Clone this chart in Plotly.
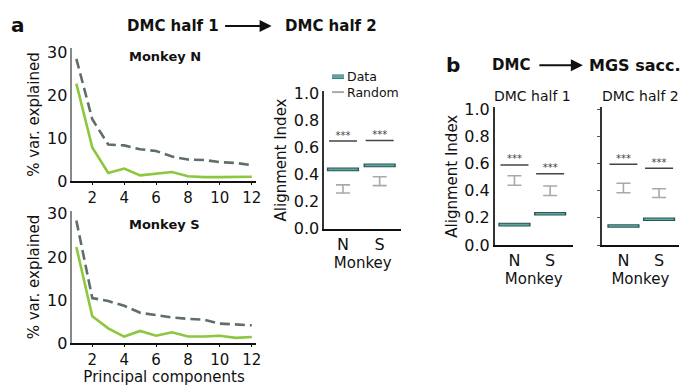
import plotly.graph_objects as go

W, H = 687, 386
FONT = "DejaVu Sans"

pcs = list(range(1, 13))
n_data = [22.7, 7.8, 1.85, 2.9, 1.3, 1.7, 2.1, 1.1, 0.9, 0.9, 0.9, 1.0]
n_rand = [28.5, 14.4, 8.5, 8.3, 7.4, 7.0, 5.7, 5.0, 4.9, 4.4, 4.2, 3.7]
s_data = [22.3, 6.3, 3.5, 1.6, 2.9, 1.8, 2.6, 1.6, 1.6, 1.8, 1.3, 1.5]
s_rand = [28.4, 10.5, 9.8, 8.7, 7.1, 6.6, 6.0, 5.7, 5.5, 4.6, 4.4, 4.2]

monkeys = ["N", "S"]
mk_pos = [0, 1]
# panel a right: DMC half1 -> half2
a_data = [0.44, 0.47]
a_rand_lo = [0.265, 0.32]
a_rand_hi = [0.325, 0.385]
a_sig = [0.65, 0.655]
# panel b: DMC -> MGS sacc
b1_data = [0.15, 0.23]
b1_rand_lo = [0.44, 0.365]
b1_rand_hi = [0.51, 0.435]
b1_sig = [0.59, 0.525]
b2_data = [0.14, 0.19]
b2_rand_lo = [0.385, 0.35]
b2_rand_hi = [0.455, 0.415]
b2_sig = [0.595, 0.565]
sig_text = ["***", "***"]
legend_labels = ["Data", "Random"]

GREEN = "#8dc63f"
DASH = "#5f6f67"
TEAL = "#5aa9a2"
TEAL_DARK = "#2e5553"
GRAY = "#a9a9a9"

fig = go.Figure()

def px(x):
    return x / W

def py(y):
    return 1 - y / H

# line panels
for i, (d, r) in enumerate([(n_data, n_rand), (s_data, s_rand)]):
    ax = "" if i == 0 else "2"
    fig.add_trace(go.Scatter(x=pcs, y=r, mode="lines", line=dict(color=DASH, width=2.6, dash="10px,5px"),
                             xaxis="x" + ax, yaxis="y" + ax, showlegend=False))
    fig.add_trace(go.Scatter(x=pcs, y=d, mode="lines", line=dict(color=GREEN, width=2.6),
                             xaxis="x" + ax, yaxis="y" + ax, showlegend=False))

def align_panel(ax, data, lo, hi, sig):
    mid = [(l + h) / 2 for l, h in zip(lo, hi)]
    err = [(h - l) / 2 for l, h in zip(lo, hi)]
    fig.add_trace(go.Scatter(x=mk_pos, y=mid, mode="markers", marker=dict(size=1, color="rgba(0,0,0,0)"),
                             error_y=dict(type="data", array=err, color=GRAY, thickness=1.6, width=7),
                             xaxis="x" + ax, yaxis="y" + ax, showlegend=False))
    fig.add_trace(go.Scatter(x=mk_pos, y=data, mode="markers",
                             marker=dict(symbol="line-ew", size=23, line=dict(color=TEAL_DARK, width=3.6)),
                             xaxis="x" + ax, yaxis="y" + ax, showlegend=False))
    fig.add_trace(go.Scatter(x=mk_pos, y=data, mode="markers",
                             marker=dict(symbol="line-ew", size=21, line=dict(color=TEAL, width=1.6)),
                             xaxis="x" + ax, yaxis="y" + ax, showlegend=False))
    fig.add_trace(go.Scatter(x=mk_pos, y=sig, mode="markers",
                             marker=dict(symbol="line-ew", size=20, line=dict(color="#444", width=1.5)),
                             xaxis="x" + ax, yaxis="y" + ax, showlegend=False))
    fig.add_trace(go.Scatter(x=mk_pos, y=sig, mode="text", text=sig_text,
                             textposition="top center", textfont=dict(family=FONT, size=10, color="#444"),
                             xaxis="x" + ax, yaxis="y" + ax, showlegend=False))

align_panel("3", a_data, a_rand_lo, a_rand_hi, a_sig)
align_panel("4", b1_data, b1_rand_lo, b1_rand_hi, b1_sig)
align_panel("5", b2_data, b2_rand_lo, b2_rand_hi, b2_sig)

tickfont = dict(family=FONT, size=16, color="#111")
xtickfont = dict(family=FONT, size=15, color="#111")
titlefont = dict(family=FONT, size=15, color="#111")

common_y_line = dict(showline=True, linewidth=1.5, showgrid=False, zeroline=False, tickfont=tickfont,
                     ticks="", ticklen=3)
common_x_line = dict(showline=True, linecolor="#111", linewidth=1.5, showgrid=False, zeroline=False,
                     tickfont=xtickfont, ticks="outside", ticklen=2, tickcolor="#111")

fig.update_layout(
    width=W, height=H, margin=dict(l=0, r=0, t=0, b=0),
    paper_bgcolor="white", plot_bgcolor="white",
    font=dict(family=FONT, color="#111"),
    showlegend=False,
    xaxis=dict(common_x_line, domain=[px(73), px(258)], range=[0.75, 12.25], tickvals=[2, 4, 6, 8, 10, 12],
               anchor="y"),
    yaxis=dict(common_y_line, domain=[py(182), py(43)], range=[0, 31], tickvals=[0, 10, 20, 30],
               linecolor="#888", anchor="x", title=dict(text="% var. explained", font=titlefont, standoff=4)),
    xaxis2=dict(common_x_line, domain=[px(73), px(258)], range=[0.75, 12.25], tickvals=[2, 4, 6, 8, 10, 12],
                anchor="y2", title=dict(text="Principal components", font=titlefont, standoff=3)),
    yaxis2=dict(common_y_line, domain=[py(352), py(213)], range=[0, 30.7], tickvals=[0, 10, 20, 30],
                linecolor="#888", anchor="x2", title=dict(text="% var. explained", font=titlefont, standoff=4)),
    xaxis3=dict(common_x_line, domain=[px(327), px(405)], range=[-0.514, 1.595], tickvals=mk_pos,
                ticktext=monkeys, ticks="", tickfont=tickfont, anchor="y3",
                title=dict(text="Monkey", font=titlefont, standoff=0)),
    yaxis3=dict(common_y_line, domain=[py(232), py(88)], range=[0, 1.02], tickvals=[0, 0.2, 0.4, 0.6, 0.8, 1.0],
                tickformat=".1f", linecolor="#333", anchor="x3",
                title=dict(text="Alignment Index", font=titlefont, standoff=3)),
    xaxis4=dict(common_x_line, domain=[px(499), px(578)], range=[-0.556, 1.64], tickvals=mk_pos,
                ticktext=monkeys, ticks="", tickfont=tickfont, anchor="y4",
                title=dict(text="Monkey", font=titlefont, standoff=0)),
    yaxis4=dict(common_y_line, domain=[py(249), py(105)], range=[0, 1.014], tickvals=[0, 0.2, 0.4, 0.6, 0.8, 1.0],
                tickformat=".1f", linecolor="#333", anchor="x4",
                title=dict(text="Alignment Index", font=titlefont, standoff=3)),
    xaxis5=dict(common_x_line, domain=[px(607), px(685)], range=[-0.61, 1.56], tickvals=mk_pos,
                ticktext=monkeys, ticks="", tickfont=tickfont, anchor="y5",
                title=dict(text="Monkey", font=titlefont, standoff=0)),
    yaxis5=dict(common_y_line, domain=[py(249), py(105)], range=[0, 1.014], tickvals=[0, 0.2, 0.4, 0.6, 0.8, 1.0],
                showticklabels=False, ticks="outside", tickcolor="#555", linecolor="#333", anchor="x5"),
)

def txt(x, y, s, size, bold=False, xanchor="center"):
    fig.add_annotation(x=px(x), y=py(y), xref="paper", yref="paper", text=("<b>%s</b>" % s) if bold else s,
                       showarrow=False, xanchor=xanchor, yanchor="middle", borderpad=0,
                       font=dict(family=FONT, size=size, color="#111"))

def arrow(x0, x1, y):
    fig.add_annotation(x=px(x1), y=py(y), xref="paper", yref="paper", ax=-(x1 - x0), ay=0,
                       axref="pixel", ayref="pixel", text="", showarrow=True, arrowhead=2,
                       arrowsize=1.2, arrowwidth=2, arrowcolor="#111")

# manual compact legend (Data / Random)
for i, (lab, col, lw) in enumerate(zip(legend_labels, [TEAL, GRAY], [3.5, 2])):
    yy = 73 + 16 * i
    if i == 0:
        fig.add_shape(type="line", xref="paper", yref="paper", x0=px(335), x1=px(347), y0=py(yy), y1=py(yy),
                      line=dict(color=TEAL_DARK, width=4.5))
    fig.add_shape(type="line", xref="paper", yref="paper", x0=px(335), x1=px(347), y0=py(yy), y1=py(yy),
                  line=dict(color=col, width=lw))
    txt(349, yy, lab, 12.5, xanchor="left")

txt(18, 19, "a", 20, True)
txt(175, 20, "DMC half 1", 15, True)
arrow(226, 274, 20)
txt(334, 20, "DMC half 2", 15, True)
txt(166, 52, "Monkey N", 13, True)
txt(166, 227, "Monkey S", 13, True)

txt(457, 61, "b", 20, True)
txt(516, 61, "DMC", 15, True)
arrow(543, 588, 61)
txt(641, 61, "MGS sacc.", 16, True)
txt(537, 93, "DMC half 1", 14)
txt(646, 93, "DMC half 2", 14)

fig.write_html("out.html")
